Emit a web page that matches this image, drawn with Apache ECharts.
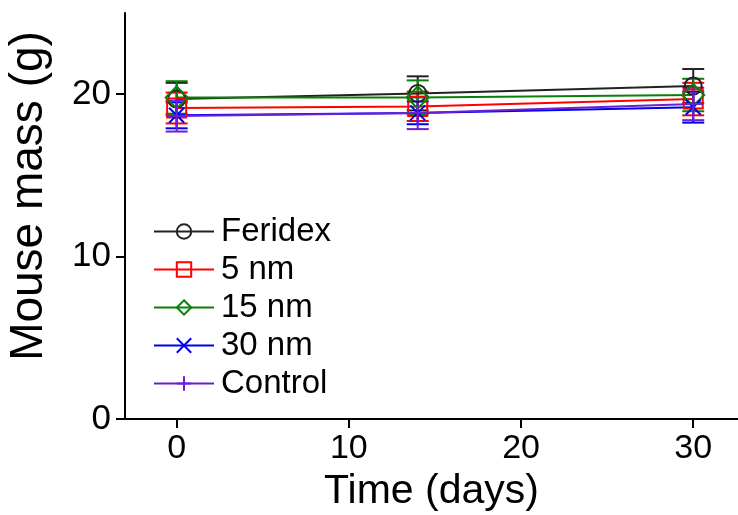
<!DOCTYPE html>
<html><head><meta charset="utf-8">
<script src="https://cdn.jsdelivr.net/npm/echarts@6/dist/echarts.min.js"></script>
<style>html,body{margin:0;padding:0;background:#fff}#c{width:738px;height:515px}</style>
</head><body><div id="c"></div>
<script>
const days = [0, 14, 30];
const xTicks = [0, 10, 20, 30];
const yTicks = [0, 10, 20];
const names = ['Feridex', '5 nm', '15 nm', '30 nm', 'Control'];
const feridex = [19.7, 20.05, 20.5];
const feridexErr = [1.0, 1.05, 1.05];
const nm5 = [19.15, 19.25, 19.7];
const nm5Err = [0.95, 0.9, 1.0];
const nm15 = [19.8, 19.8, 19.95];
const nm15Err = [1.0, 1.05, 1.0];
const nm30 = [18.7, 18.85, 19.2];
const nm30Err = [0.8, 0.7, 0.95];
const control = [18.65, 18.85, 19.4];
const controlErr = [0.95, 1.0, 1.0];

const values = [feridex, nm5, nm15, nm30, control];
const errs = [feridexErr, nm5Err, nm15Err, nm30Err, controlErr];
const colors = ['#222222', '#ff0000', '#0a800a', '#0000ee', '#6a1fd6'];
const symbols = ['circle', 'rect', 'diamond', 'path://M0,0L10,10M10,0L0,10', 'path://M5,0L5,10M0,5L10,5'];
const symSizes = [17, 19, 22, 15, 20];
const FONT = 'Liberation Sans, Arial, Helvetica, sans-serif';

const chart = echarts.init(document.getElementById('c'));
const series = [];
names.forEach((n, i) => {
  series.push({
    type: 'custom', silent: true, z: 2,
    data: days.map((d, k) => [d, values[i][k] - errs[i][k], values[i][k] + errs[i][k]]),
    renderItem: (params, api) => {
      const lo = api.coord([api.value(0), api.value(1)]);
      const hi = api.coord([api.value(0), api.value(2)]);
      const w = 11;
      const st = {stroke: colors[i], lineWidth: 2};
      return {type: 'group', children: [
        {type: 'line', shape: {x1: lo[0], y1: lo[1], x2: hi[0], y2: hi[1]}, style: st},
        {type: 'line', shape: {x1: lo[0]-w, y1: lo[1], x2: lo[0]+w, y2: lo[1]}, style: st},
        {type: 'line', shape: {x1: hi[0]-w, y1: hi[1], x2: hi[0]+w, y2: hi[1]}, style: st}
      ]};
    }
  });
});
names.forEach((n, i) => {
  series.push({
    type: 'line', name: n, z: 3,
    data: days.map((d, k) => [d, values[i][k]]),
    symbol: symbols[i], symbolSize: symSizes[i], showAllSymbol: true,
    lineStyle: {color: colors[i], width: 2},
    itemStyle: {color: 'rgba(0,0,0,0)', borderColor: colors[i], borderWidth: 2},
    emphasis: {disabled: true}
  });
});

chart.setOption({
  animation: false,
  backgroundColor: '#fff',
  grid: {left: 125, right: 0, top: 13, bottom: 96, outerBoundsMode: 'none', containLabel: false},
  legend: {
    data: names, orient: 'vertical', left: 148, top: 210,
    itemWidth: 60, itemHeight: 18, itemGap: 5,
    textStyle: {fontFamily: FONT, fontSize: 33, color: '#000', padding: [0, 0, 0, 2]}
  },
  graphic: [{
    type: 'text', x: 29, y: 196, rotation: Math.PI / 2,
    style: {text: 'Mouse mass (g)', fontFamily: FONT, fontSize: 46, fill: '#000',
      align: 'center', verticalAlign: 'middle'}
  }],
  xAxis: {
    type: 'value', min: -3, max: 32.6,
    name: 'Time (days)', nameLocation: 'middle', nameGap: 52,
    nameTextStyle: {fontFamily: FONT, fontSize: 41, color: '#000'},
    axisLine: {show: true, onZero: false, lineStyle: {color: '#000', width: 2}},
    axisTick: {show: true, length: 9, lineStyle: {color: '#000', width: 2}, customValues: xTicks},
    axisLabel: {fontFamily: FONT, fontSize: 34, color: '#000', margin: 13, customValues: xTicks},
    splitLine: {show: false}
  },
  yAxis: {
    type: 'value', min: 0, max: 25,
    axisLine: {show: true, onZero: false, lineStyle: {color: '#000', width: 2}},
    axisTick: {show: true, length: 9, lineStyle: {color: '#000', width: 2}, customValues: yTicks},
    axisLabel: {fontFamily: FONT, fontSize: 35, color: '#000', margin: 14, customValues: yTicks},
    splitLine: {show: false}
  },
  series: series
});
</script></body></html>
